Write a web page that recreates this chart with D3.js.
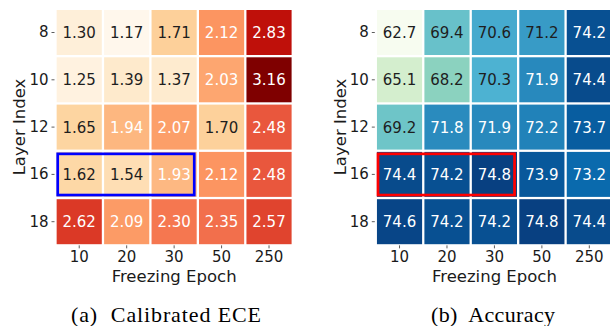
<!DOCTYPE html>
<html>
<head>
<meta charset="utf-8">
<script src="https://cdn.jsdelivr.net/npm/d3@7"></script>
<style>
  body { margin: 0; background: white; }
  svg { display: block; }
  .tick text { font-family: "DejaVu Sans", sans-serif; }
</style>
</head>
<body>
<svg width="610" height="326"></svg>
<script>
// data
const epochs = ["10", "20", "30", "50", "250"];
const layers = ["8", "10", "12", "16", "18"];

const eceValues = [
    [1.30, 1.17, 1.71, 2.12, 2.83],
    [1.25, 1.39, 1.37, 2.03, 3.16],
    [1.65, 1.94, 2.07, 1.70, 2.48],
    [1.62, 1.54, 1.93, 2.12, 2.48],
    [2.62, 2.09, 2.30, 2.35, 2.57]
];

const accValues = [
    [62.7, 69.4, 70.6, 71.2, 74.2],
    [65.1, 68.2, 70.3, 71.9, 74.4],
    [69.2, 71.8, 71.9, 72.2, 73.7],
    [74.4, 74.2, 74.8, 73.9, 73.2],
    [74.6, 74.2, 74.2, 74.8, 74.4]
];

// highlighted block: layer 16, epochs 10..30
const highlightLayer = "16";
const highlightEpochs = ["10", "20", "30"];

var svg = d3.select("svg");

const orRd = ["#fff7ec", "#fee8c8", "#fdd49e", "#fdbb84", "#fc8d59", "#ef6548", "#d7301f", "#b30000", "#7f0000"];
const gnBu = ["#f7fcf0", "#e0f3db", "#ccebc5", "#a8ddb5", "#7bccc4", "#4eb3d3", "#2b8cbe", "#0868ac", "#084081"];

function drawHeatmap(opts) {
    var cell = 47.45;
    var gap = 2.3;

    var x = d3.scaleBand()
        .domain(epochs)
        .range([opts.x0, opts.x0 + cell * epochs.length]);

    var y = d3.scaleBand()
        .domain(layers)
        .range([8.85, 8.85 + 47.3 * layers.length]);

    var flat = d3.merge(opts.values);
    var color = d3.scaleSequential(d3.piecewise(d3.interpolateRgb, opts.colors))
        .domain(d3.extent(flat));

    var cells = [];
    opts.values.forEach((row, i) => {
        row.forEach((v, j) => {
            cells.push({layer: layers[i], epoch: epochs[j], value: v});
        });
    });

    var g = svg.append("g");

    g.selectAll("rect.cell")
        .data(cells)
        .enter()
        .append("rect")
        .attr("class", "cell")
        .attr("x", d => x(d.epoch) + gap / 2)
        .attr("y", d => y(d.layer) + gap / 2)
        .attr("width", x.bandwidth() - gap)
        .attr("height", y.bandwidth() - gap)
        .style("fill", d => color(d.value));

    g.selectAll("text.val")
        .data(cells)
        .enter()
        .append("text")
        .attr("class", "val")
        .attr("x", d => x(d.epoch) + x.bandwidth() / 2)
        .attr("y", d => y(d.layer) + y.bandwidth() / 2 + 0.5)
        .attr("text-anchor", "middle")
        .attr("dominant-baseline", "central")
        .style("font-family", "DejaVu Sans, sans-serif")
        .style("font-size", "15px")
        .style("fill", d => d.value > opts.threshold ? "#ffffff" : "#1e1e1e")
        .text(d => d.value.toFixed(opts.digits));

    // highlight box
    var hx0 = x(highlightEpochs[0]);
    var hx1 = x(highlightEpochs[highlightEpochs.length - 1]) + x.bandwidth();
    g.append("rect")
        .attr("x", hx0 + 2.2)
        .attr("y", y(highlightLayer) + 3.1)
        .attr("width", hx1 - hx0 - 5.8)
        .attr("height", y.bandwidth() - 6.1)
        .style("fill", "none")
        .style("stroke", opts.boxColor)
        .style("stroke-width", 2.7);

    // axes
    var xAxis = d3.axisBottom(x).tickSize(3).tickPadding(3);
    var yAxis = d3.axisLeft(y).tickSize(3).tickPadding(3);

    var gx = g.append("g")
        .attr("transform", "translate(0," + (8.85 + 47.3 * layers.length) + ")")
        .call(xAxis);
    gx.select(".domain").remove();
    gx.selectAll(".tick line").style("stroke", "#333").style("stroke-width", 0.8);
    gx.selectAll(".tick text")
        .style("font-size", "15px")
        .style("fill", "#1a1a1a")
        .attr("dy", "0.74em");

    var gy = g.append("g")
        .attr("transform", "translate(" + (opts.x0 - 1) + ",0)")
        .call(yAxis);
    gy.select(".domain").remove();
    gy.selectAll(".tick line").style("stroke", "#333").style("stroke-width", 0.8);
    gy.selectAll(".tick text")
        .style("font-size", "15px")
        .style("fill", "#1a1a1a");

    var cx = opts.x0 + cell * epochs.length / 2;

    g.append("text")
        .attr("x", cx)
        .attr("y", 281.7)
        .attr("text-anchor", "middle")
        .style("font-family", "DejaVu Sans, sans-serif")
        .style("font-size", "16.5px")
        .style("fill", "#1a1a1a")
        .text("Freezing Epoch");

    g.append("text")
        .attr("transform", "translate(" + opts.ylabelX + ",127)rotate(-90)")
        .attr("text-anchor", "middle")
        .style("font-family", "DejaVu Sans, sans-serif")
        .style("font-size", "16.5px")
        .style("fill", "#1a1a1a")
        .text("Layer Index");

    g.append("text")
        .attr("x", opts.captionX)
        .attr("y", 322)
        .attr("text-anchor", "middle")
        .attr("textLength", opts.captionWidth)
        .attr("lengthAdjust", "spacing")
        .style("font-family", "Liberation Serif, Times New Roman, serif")
        .style("font-size", "22px")
        .style("fill", "#000")
        .text(opts.caption);
}

drawHeatmap({
    x0: 55.5,
    values: eceValues,
    colors: orRd,
    threshold: 1.8,
    digits: 2,
    boxColor: "#0000ff",
    ylabelX: 25,
    captionX: 166,
    captionWidth: 190,
    caption: "(a)\u00a0 Calibrated ECE"
});

drawHeatmap({
    x0: 375.8,
    values: accValues,
    colors: gnBu,
    threshold: 71.5,
    digits: 1,
    boxColor: "#ff0000",
    ylabelX: 346,
    captionX: 493,
    captionWidth: 124,
    caption: "(b)\u00a0 Accuracy"
});
</script>
</body>
</html>
